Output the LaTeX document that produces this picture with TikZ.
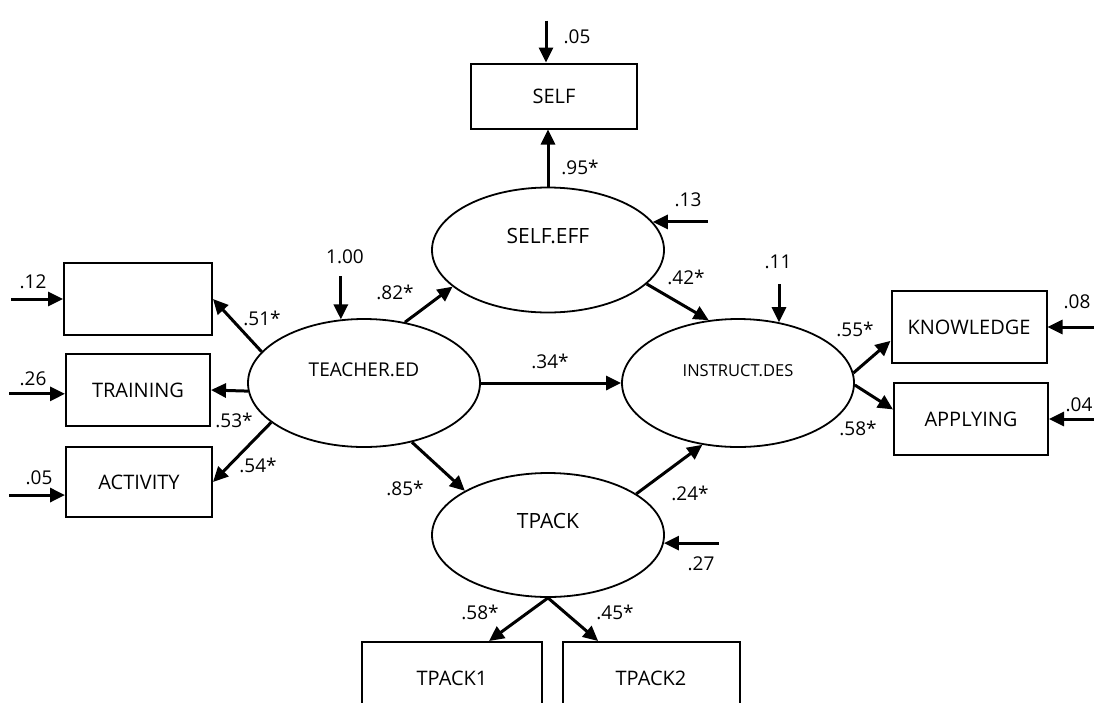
\documentclass[tikz,border=0pt]{standalone}
\usepackage{fontspec}
\setmainfont{Open Sans}
\usetikzlibrary{shapes.geometric, arrows.meta, positioning, calc}

\begin{document}
\begin{tikzpicture}[
        x=1pt, y=-1pt,
        >={Triangle[length=15pt, width=14pt]},
        obs/.style={rectangle, draw=black, line width=2pt, minimum width=148pt, minimum height=72pt, inner sep=0pt, font=\fontsize{20}{24}\selectfont},
        latent/.style={ellipse, draw=black, line width=1.8pt, minimum width=232pt, minimum height=128pt, inner sep=0pt, text height=14pt, text depth=28pt},
        effect/.style={->, line width=3pt},
        coef/.style={font=\fontsize{19}{22}\selectfont, inner sep=0pt}
    ]
        \useasboundingbox (0,0) rectangle (1094,702);

        % Observed indicators
        \node[obs] (box1) at (138,299) {};
        \node[obs, minimum width=144pt] (train) at (138,390) {TRAINING};
        \node[obs, minimum width=146pt, minimum height=70pt] (act) at (139,482) {ACTIVITY};
        \node[obs, minimum width=166pt, minimum height=65pt] (self) at (554,96) {SELF};
        \node[obs, minimum width=155pt] (know) at (969,327) {KNOWLEDGE};
        \node[obs, minimum width=154pt] (apply) at (971,419) {APPLYING};
        \node[obs, minimum width=180pt] (tp1) at (452,678) {TPACK1};
        \node[obs, minimum width=177pt] (tp2) at (651,678) {TPACK2};

        % Latent variables
        \node[latent, font=\fontsize{19}{22}\selectfont] (ted) at (364,383) {TEACHER.ED};
        \node[latent, minimum height=125pt, font=\fontsize{21}{24}\selectfont] (sef) at (548,250) {SELF.EFF};
        \node[latent, font=\fontsize{16.5}{20}\selectfont] (ins) at (738,383) {INSTRUCT.DES};
        \node[latent, minimum height=124pt, font=\fontsize{21}{24}\selectfont] (tp) at (548,535) {TPACK};

        % Error terms
        \coordinate (e_box1) at ($(box1.west)+(-52,0)$);
        \coordinate (e_train) at ($(train.183)+(-56,0)$);
        \coordinate (e_act) at ($(act.190)+(-56,0)$);
        \coordinate (e_ted) at ($(ted.110)+(0,-43)$);
        \coordinate (e_self) at ($(self.north)+(-8,-42)$);
        \coordinate (e_sef) at ($(sef.15)+(55,0)$);
        \coordinate (e_ins) at ($(ins.56)+(0,-38)$);
        \coordinate (e_know) at ($(know.east)+(48,0)$);
        \coordinate (e_apply) at ($(apply.east)+(47,0)$);
        \coordinate (e_tp) at ($(tp.356)+(55,0)$);

        \draw[effect] (e_box1) -- (box1.west);
        \draw[effect] (e_train) -- (train.183);
        \draw[effect] (e_act) -- (act.190);
        \draw[effect] (e_ted) -- (ted.110);
        \draw[effect] (e_self) -- (e_self |- self.north);
        \draw[effect] (e_sef) -- (sef.15);
        \draw[effect] (e_ins) -- (ins.56);
        \draw[effect] (e_know) -- (know.east);
        \draw[effect] (e_apply) -- (apply.east);
        \draw[effect] (e_tp) -- (tp.356);

        % Paths
        \draw[effect] (ted.163) -- (box1.east);
        \draw[effect] (ted.184) -- (train.east);
        \draw[effect] (ted.203) -- (act.east);
        \draw[effect] (ted.56) -- (sef.201);
        \draw[effect] (ted.east) -- (ins.west);
        \draw[effect] (ted.309) -- (tp.152);
        \draw[effect] (sef.north) -- (sef.north |- self.south);
        \draw[effect] (sef.341) -- (ins.115);
        \draw[effect] (ins.5) -- (know.190);
        \draw[effect] (ins.-1) -- (apply.173);
        \draw[effect] (tp.25) -- (ins.240);
        \draw[effect] (tp.south) -- (tp1.45);
        \draw[effect] (tp.south) -- (tp2.145);

        % Coefficients
        \node[coef] (c_box1) at (33,282) {.12};
        \node[coef] (c_train) at (33,379) {.26};
        \node[coef] (c_act) at (39,478) {.05};
        \node[coef] (c_ted) at (345,257) {1.00};
        \node[coef] (c_self) at (577,37) {.05};
        \node[coef] (c_sef) at (688,200) {.13};
        \node[coef] (c_ins) at (778,262) {.11};
        \node[coef] (c_know) at (1077,302) {.08};
        \node[coef] (c_apply) at (1079,405) {.04};
        \node[coef] (c_tp) at (701,564) {.27};
        \node[coef] (p_box1) at (262,318) {.51*};
        \node[coef] (p_train) at (234,420) {.53*};
        \node[coef] (p_act) at (258,465) {.54*};
        \node[coef] (p_sef) at (395,292) {.82*};
        \node[coef] (p_ins) at (550,361) {.34*};
        \node[coef] (p_tp) at (405,488) {.85*};
        \node[coef] (p_self) at (580,167) {.95*};
        \node[coef] (p_sefins) at (686,277) {.42*};
        \node[coef] (p_know) at (855,329) {.55*};
        \node[coef] (p_apply) at (858,428) {.58*};
        \node[coef] (p_tpins) at (690,493) {.24*};
        \node[coef] (p_tp1) at (480,612) {.58*};
        \node[coef] (p_tp2) at (615,612) {.45*};
    \end{tikzpicture}
\end{document}
